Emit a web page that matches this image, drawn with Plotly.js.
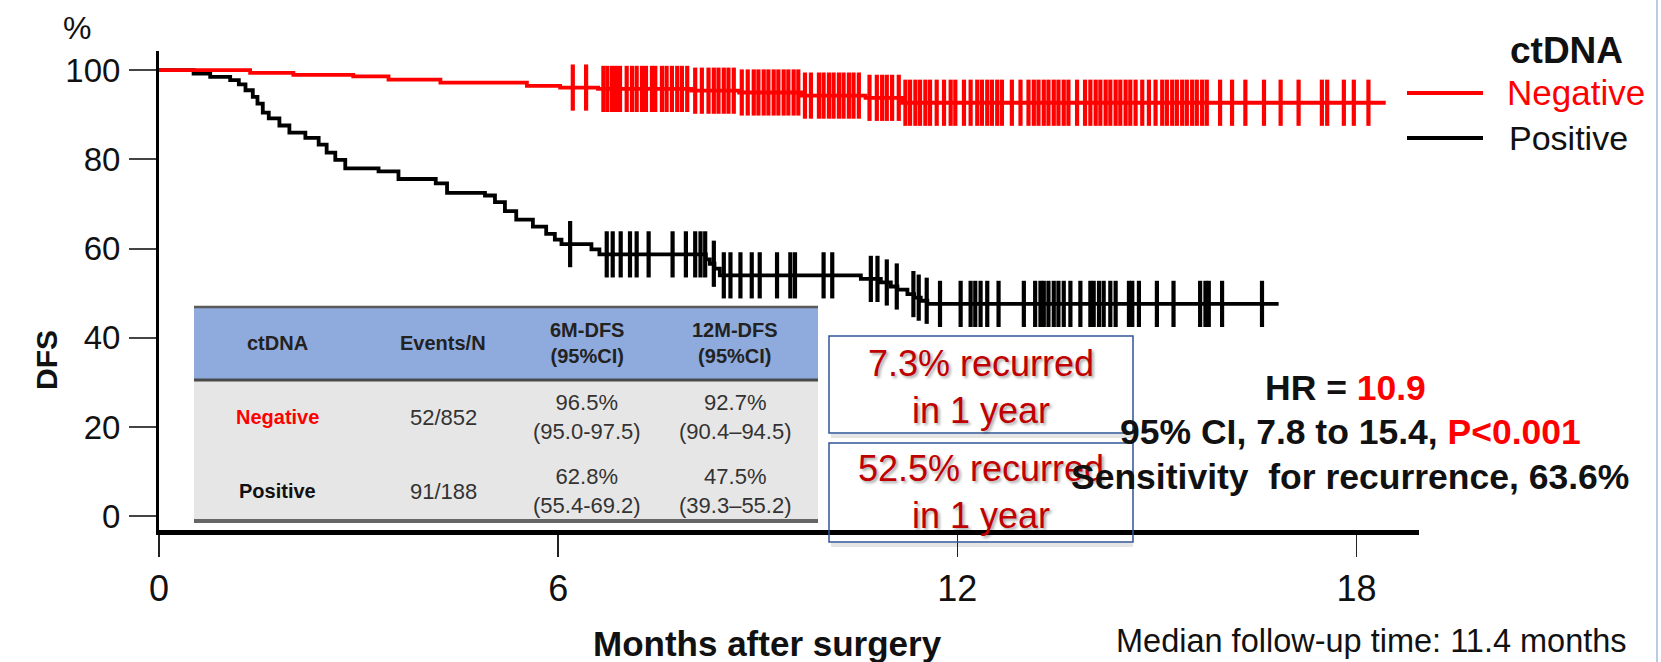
<!DOCTYPE html>
<html>
<head>
<meta charset="utf-8">
<script src="https://cdn.plot.ly/plotly-3.0.1.min.js"></script>
<style>
  html, body { margin: 0; padding: 0; background: #fff; }
  #chart { width: 1661px; height: 662px; }
</style>
</head>
<body>
<div id="chart"></div>
<script>
// Kaplan-Meier disease-free survival by ctDNA status (months after surgery, DFS %)

// ctDNA negative: step times (months) and survival (%)
const negTimes = [0, 1.37, 2.02, 2.92, 3.45, 4.23, 5.53, 6.03, 6.6, 8.0, 8.72, 9.66, 10.62, 11.17, 18.44];
const negSurv  = [100, 99.4, 98.95, 98.6, 97.9, 97.2, 96.5, 96.1, 95.8, 95.4, 95.0, 94.3, 93.8, 92.7, 92.7];
// ctDNA negative: censored times (months)
const negCensor = [6.22, 6.42, 6.68, 6.74, 6.81, 6.87, 6.93, 7.03, 7.11, 7.18, 7.26, 7.32, 7.41, 7.46,
  7.56, 7.63, 7.71, 7.79, 7.86, 7.94, 8.06, 8.16, 8.26, 8.34, 8.41, 8.49, 8.56, 8.64, 8.76, 8.85,
  8.94, 9.01, 9.09, 9.16, 9.24, 9.31, 9.39, 9.46, 9.54, 9.61, 9.71, 9.80, 9.92, 9.99, 10.07, 10.14,
  10.22, 10.29, 10.37, 10.44, 10.52, 10.68, 10.79, 10.87, 10.94, 11.02, 11.12, 11.22, 11.29, 11.37,
  11.44, 11.52, 11.59, 11.69, 11.80, 11.90, 11.97, 12.10, 12.20, 12.30, 12.37, 12.45, 12.52, 12.60,
  12.67, 12.82, 12.95, 13.07, 13.15, 13.22, 13.30, 13.37, 13.45, 13.52, 13.60, 13.67, 13.80, 13.92,
  14.00, 14.08, 14.15, 14.23, 14.30, 14.38, 14.45, 14.53, 14.60, 14.68, 14.78, 14.88, 14.98, 15.08,
  15.15, 15.23, 15.30, 15.38, 15.45, 15.53, 15.60, 15.68, 15.75, 15.95, 16.13, 16.33, 16.61, 16.86,
  17.13, 17.48, 17.56, 17.81, 17.96, 18.18];

// ctDNA positive: step times (months) and survival (%)
const posTimes = [0, 0.52, 0.77, 1.07, 1.2, 1.3, 1.41, 1.48, 1.56, 1.65, 1.81, 1.96, 2.2, 2.4, 2.52,
  2.65, 2.8, 3.3, 3.6, 4.16, 4.33, 4.9, 5.05, 5.2, 5.37, 5.62, 5.82, 5.95, 6.05, 6.5, 6.62, 8.22,
  8.28, 8.35, 8.43, 10.55, 10.85, 11.0, 11.1, 11.25, 11.35, 11.45, 11.55, 16.83];
const posSurv  = [100, 99.25, 98.5, 97.75, 96.8, 95.5, 94.0, 92.5, 90.5, 89.2, 87.6, 86.0, 84.8, 83.3, 81.5,
  79.9, 78.0, 77.3, 75.6, 74.6, 72.5, 71.9, 70.4, 68.4, 66.5, 64.9, 63.3, 62.0, 61.0, 59.8, 58.7, 57.6,
  56.6, 55.5, 54.0, 53.2, 52.4, 51.5, 50.8, 49.8, 49.0, 48.3, 47.6, 47.6];
// ctDNA positive: censored times (months)
const posCensor = [6.18, 6.73, 6.82, 6.94, 7.08, 7.18, 7.36, 7.72, 7.92, 8.06, 8.14, 8.21, 8.34, 8.49,
  8.59, 8.74, 8.91, 9.03, 9.29, 9.49, 9.56, 9.99, 10.12, 10.70, 10.80, 10.94, 11.09, 11.34, 11.42,
  11.54, 11.74, 12.05, 12.20, 12.27, 12.35, 12.45, 12.62, 13.00, 13.17, 13.25, 13.30, 13.37, 13.45,
  13.52, 13.60, 13.70, 13.85, 14.00, 14.05, 14.13, 14.20, 14.30, 14.38, 14.58, 14.63, 14.73, 15.00,
  15.25, 15.65, 15.73, 15.78, 15.98, 16.58];

// Axis ticks
const xTicks = [0, 6, 12, 18];
const yTicks = [0, 20, 40, 60, 80, 100];

// Summary table
const tableHeader = ["ctDNA", "Events/N", "6M-DFS<br>(95%CI)", "12M-DFS<br>(95%CI)"];
const tableGroups = ["Negative", "Positive"];
const tableEvents = ["52/852", "91/188"];
const table6M  = ["96.5%<br>(95.0-97.5)", "62.8%<br>(55.4-69.2)"];
const table12M = ["92.7%<br>(90.4–94.5)", "47.5%<br>(39.3–55.2)"];

// Callouts and statistics
const recurNeg = "7.3% recurred<br>in 1 year";
const recurPos = "52.5% recurred<br>in 1 year";
const hrValue = "10.9";
const ciText = "95% CI, 7.8 to 15.4, ";
const pText = "P<0.001";
const sensText = "Sensitivity  for recurrence, 63.6%";
const followText = "Median follow-up time: 11.4 months";

const RED = "#ff0000";
const DARKRED = "#c00000";
const FONT = "Liberation Sans, Arial, Helvetica, sans-serif";

// Kaplan-Meier step value at time t
function stepAt(times, surv, t) {
  let v = surv[0];
  for (let i = 0; i < times.length; i++) { if (times[i] <= t) v = surv[i]; else break; }
  return v;
}

// Page layout in pixels -> paper coordinates
const PL = 159, PR = 1419, PT = 51, PB = 530;
const px = x => (x - PL) / (PR - PL);
const py = y => (PB - y) / (PB - PT);

const censorMarker = color => ({ symbol: "line-ns-open", size: 33, color: color, line: { color: color, width: 4.2 } });

const traces = [
  { x: posTimes, y: posSurv, mode: "lines", line: { color: "#000", width: 3.8, shape: "hv" }, hoverinfo: "skip" },
  { x: posCensor, y: posCensor.map(t => stepAt(posTimes, posSurv, t)), mode: "markers",
    marker: censorMarker("#000"), hoverinfo: "skip" },
  { x: negTimes, y: negSurv, mode: "lines", line: { color: RED, width: 3.8, shape: "hv" }, hoverinfo: "skip" },
  { x: negCensor, y: negCensor.map(t => stepAt(negTimes, negSurv, t)), mode: "markers",
    marker: censorMarker(RED), hoverinfo: "skip" }
];

const shapes = [];
const annotations = [];

function text(x, y, t, size, opts) {
  annotations.push(Object.assign({
    xref: "paper", yref: "paper", x: px(x), y: py(y), text: t, showarrow: false,
    xanchor: "center", yanchor: "middle",
    font: { family: FONT, size: size, color: "#111" }
  }, opts || {}));
}
function rect(x0, y0, x1, y1, fill, line) {
  shapes.push({ type: "rect", xref: "paper", yref: "paper", x0: px(x0), x1: px(x1), y0: py(y1), y1: py(y0),
    fillcolor: fill || "rgba(0,0,0,0)", line: line || { width: 0 }, layer: "above" });
}
function hline(x0, x1, y, color, w) {
  shapes.push({ type: "line", xref: "paper", yref: "paper", x0: px(x0), x1: px(x1), y0: py(y), y1: py(y),
    line: { color: color, width: w }, layer: "above" });
}

// Summary table
const TX0 = 194, TX1 = 818;
rect(TX0, 307, TX1, 380, "#8faadc");
rect(TX0, 380, TX1, 521, "#e7e6e6");
hline(TX0, TX1, 307, "#5a5a5a", 2.5);
hline(TX0, TX1, 380, "#4a4a4a", 3);
hline(TX0, TX1, 521, "#666", 4);
const colX = [277, 443, 587, 735];
tableHeader.forEach((h, i) => text(colX[i], 343, "<b>" + h + "</b>", 20, { font: { family: FONT, size: 20, color: "#222" } }));
const rowY = [417, 491];
tableGroups.forEach((g, r) => {
  text(colX[0], rowY[r], "<b>" + g + "</b>", 20, { font: { family: FONT, size: 20, color: r === 0 ? RED : "#111" } });
  text(colX[1], rowY[r], tableEvents[r], 22, { font: { family: FONT, size: 22, color: "#333" } });
  text(colX[2], rowY[r], table6M[r], 22, { font: { family: FONT, size: 22, color: "#333" } });
  text(colX[3], rowY[r], table12M[r], 22, { font: { family: FONT, size: 22, color: "#333" } });
});

// Recurrence callout boxes
[[336, 433], [443, 542]].forEach(([y0, y1]) => {
  hline(831, 1133, y1 + 3, "rgba(0,0,0,0.10)", 4);
  rect(829, y0, 1133, y1, null, { color: "#2f5597", width: 1.5 });
});
const calloutFont = { family: FONT, size: 36, color: DARKRED, shadow: "2px 2px 3px rgba(0,0,0,0.35)" };
text(981, 387, recurNeg, 36, { font: calloutFont });
text(981, 492, recurPos, 36, { font: calloutFont });

// Hazard ratio statistics
const statFont = { family: FONT, size: 35.5, color: "#111" };
text(1345, 388, "<b>HR = <span style='color:" + RED + "'>" + hrValue + "</span></b>", 35.5, { font: statFont });
text(1350, 432, "<b>" + ciText + "<span style='color:" + RED + "'>" + pText + "</span></b>", 35.5, { font: statFont });
text(1350, 477, "<b>" + sensText + "</b>", 35.5, { font: statFont });

// Legend
hline(1407, 1483, 93, RED, 4);
hline(1407, 1483, 138, "#000", 4);
text(1508, 50, "<b>ctDNA</b>", 37, { xanchor: "left", font: { family: FONT, size: 37, color: "#111" } });
text(1505, 93, "Negative", 35, { xanchor: "left", font: { family: FONT, size: 35, color: RED } });
text(1507, 138, "Positive", 34, { xanchor: "left", font: { family: FONT, size: 34, color: "#111" } });

// Axis titles and footnote
text(77, 28, "%", 32);
text(46, 360, "<b>DFS</b>", 30, { textangle: -90 });
text(767, 643, "<b>Months after surgery</b>", 35);
text(1629, 641, followText, 32.5, { xanchor: "right" });

// Frame edge on the right
shapes.push({ type: "line", xref: "paper", yref: "paper", x0: px(1657), x1: px(1657), y0: py(0), y1: py(662),
  line: { color: "#bccbe4", width: 2 }, layer: "above" });

const layout = {
  width: 1661, height: 662,
  margin: { l: PL, r: 1661 - PR, t: PT, b: 662 - PB, pad: 0 },
  paper_bgcolor: "#fff", plot_bgcolor: "#fff",
  showlegend: false,
  font: { family: FONT, color: "#111" },
  xaxis: {
    range: [0, 18.94], tickvals: xTicks, ticktext: xTicks.map(String),
    showgrid: false, zeroline: false,
    showline: true, linecolor: "#000", linewidth: 5,
    ticks: "outside", ticklen: 22, tickwidth: 1.5, tickcolor: "#222",
    ticklabelstandoff: 1,
    tickfont: { family: FONT, size: 36, color: "#111" }
  },
  yaxis: {
    range: [-3.1, 104.3], tickvals: yTicks, ticktext: yTicks.map(String),
    showgrid: false, zeroline: false,
    showline: true, linecolor: "#000", linewidth: 3,
    ticks: "outside", ticklen: 27, tickwidth: 2, tickcolor: "#444",
    ticklabelstandoff: 2,
    tickfont: { family: FONT, size: 33, color: "#111" }
  },
  shapes: shapes,
  annotations: annotations
};

Plotly.newPlot("chart", traces, layout, { staticPlot: true, displayModeBar: false });
</script>
</body>
</html>
